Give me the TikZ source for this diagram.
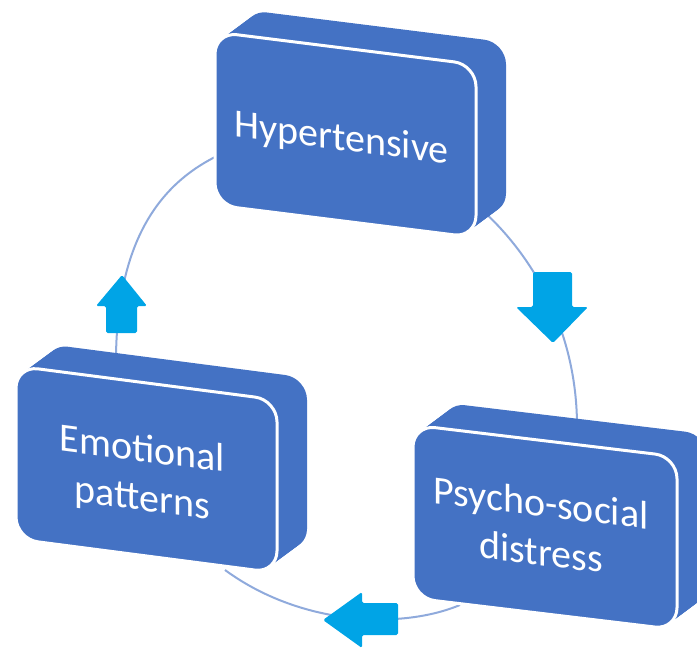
\documentclass[tikz,border=0pt]{standalone}
\usepackage{fontspec}
\setmainfont{Carlito}
\definecolor{boxblue}{RGB}{68,114,196}
\definecolor{cyclearrow}{RGB}{0,164,230}
\definecolor{ringline}{RGB}{143,170,220}
\tikzset{
  ring/.style={draw=ringline, line width=1pt},
  flowarrow/.style={fill=cyclearrow, rounded corners=0.8pt},
  faceedge/.style={fill=boxblue, draw=white, line width=1.5pt, rounded corners=11pt},
  slabfill/.style={fill=boxblue, rounded corners=11pt},
  facetext/.style={text=white, font=\fontsize{20}{24.5}\selectfont, align=center,
    transform shape, inner sep=0pt},
}
% extruded, slanted rounded box: #1 origin, #2 slope, #3 node name, #4 text,
% #5 baseline of the last text line, #6 face width
\newcommand\slabbox[6]{%
  \begin{scope}[shift={#1}, yslant=-#2]
    \foreach \s in {0,0.0625,...,1.001}
      \fill[slabfill] (30*\s,-26*\s) rectangle ++(#6,173);
    \draw[faceedge] (0,0) rectangle (#6,173);
    \node[facetext, anchor=base] (#3) at (#6/2-4,#5) {#4};
  \end{scope}}
\begin{document}
\begin{tikzpicture}[x=0.5pt,y=-0.5pt]
\useasboundingbox (0,0) rectangle (697,649);
\clip (0,0) rectangle (697,649);

% ends of the cycle arcs (hidden under the boxes)
\coordinate (eh0) at (116,355);
\coordinate (eh1) at (215,157);
\coordinate (hp0) at (480,208);
\coordinate (hp1) at (577,430);
\coordinate (pe0) at (460,605);
\coordinate (pe1) at (225,570);

% cycle arcs
\draw[ring] (eh0) .. controls (118,240) and (160,185) .. (eh1);
\draw[ring] (hp0) .. controls (540,262) and (578,340) .. (hp1);
\draw[ring] (pe0) .. controls (400,630) and (300,625) .. (pe1);

% direction arrows on the arcs
\fill[flowarrow] (122,275) -- (147,306) -- (137,306) -- (137,333) -- (106,333)
  -- (106,306) -- (96,306) -- cycle;
\fill[flowarrow] (533,272) -- (572,272) -- (572,307) -- (588,307) -- (553,343)
  -- (516,307) -- (533,307) -- cycle;
\fill[flowarrow] (323,620) -- (362,592) -- (362,603) -- (398,603) -- (398,635)
  -- (362,635) -- (362,648) -- cycle;

% the three boxes
\slabbox{(215,32)}{0.125}{hyper}{Hypertensive}{102.5}{261}
\slabbox{(413,425)}{0.12}{psycho}{Psycho-social\\distress}{125}{264}
\slabbox{(16,366)}{0.13}{emot}{Emotional\\patterns}{128}{261}
\end{tikzpicture}
\end{document}
